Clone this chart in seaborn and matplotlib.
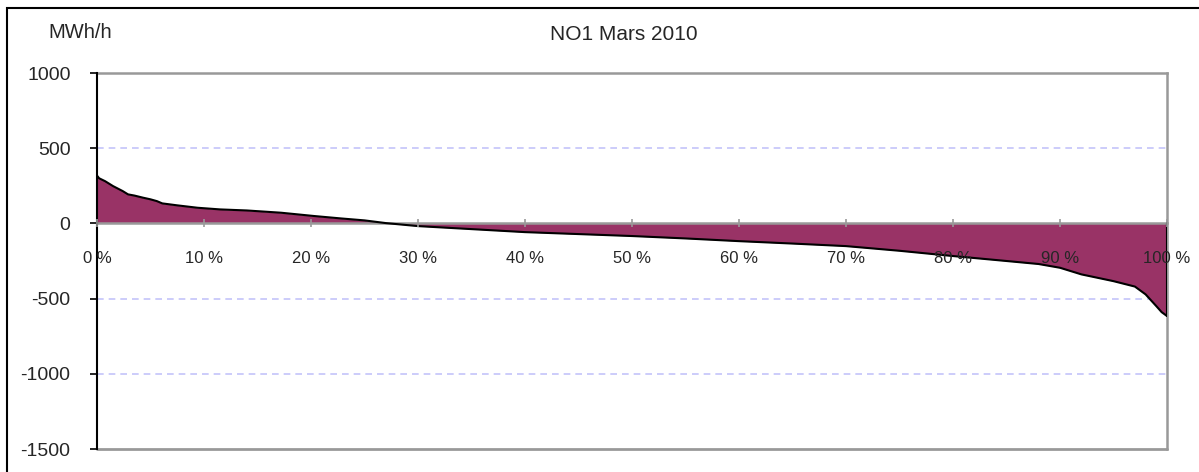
import matplotlib
matplotlib.use("Agg")
import matplotlib.pyplot as plt
import matplotlib.patches as patches
import seaborn as sns
import pandas as pd

# Duration curve NO1, March 2010 (share of hours, MWh/h)
percent = [0, 0.2, 0.75, 1.5, 2.4, 2.9, 3.5, 4.3, 5.0, 5.6, 6.1, 7.5, 9.4, 11.5,
           14, 17.2, 20.3, 22.8, 25, 27, 30, 35, 40, 45, 50, 55, 60, 65, 70,
           75, 80, 85, 88, 90, 92, 95, 97, 98, 99, 99.5, 100]
mwh = [318, 300, 281, 248, 215, 193, 185, 171, 160, 148, 133, 120, 104, 93,
       86, 71, 49, 33, 20, 2, -18, -38, -58, -71, -84, -100, -118, -134, -151,
       -182, -217, -250, -270, -295, -339, -384, -420, -472, -550, -590, -616]
x_ticks = [0, 10, 20, 30, 40, 50, 60, 70, 80, 90, 100]
x_labels = [f"{t} %" for t in x_ticks]
y_ticks = [-1500, -1000, -500, 0, 500, 1000]

df = pd.DataFrame({"percent": percent, "mwh": mwh})

sns.set_style("white")
plt.rcParams['font.family'] = ['Liberation Sans', 'DejaVu Sans']

fig = plt.figure(figsize=(11.99, 4.72), dpi=100)
ax = fig.add_axes([97 / 1199, 1 - 449 / 472, 1070 / 1199, 376 / 472])

ax.fill_between(df["percent"], df["mwh"], 0, color="#993366", linewidth=0, zorder=2)
sns.lineplot(data=df, x="percent", y="mwh", color="black", linewidth=1.5, ax=ax, zorder=4)
ax.plot([100, 100], [0, mwh[-1]], color="black", linewidth=1.5, zorder=4)

ax.set_xlim(0, 100)
ax.set_ylim(-1500, 1000)

# grid lines
for g in [500, -500, -1000]:
    ax.axhline(g, color="#c4c4fa", linestyle=(0, (4, 3)), linewidth=1.2, zorder=1)
ax.axhline(-1500, color="#999999", linewidth=2, zorder=3, clip_on=False)

ax.spines['bottom'].set_position(('data', 0))
ax.spines['bottom'].set_color("#999999")
ax.spines['bottom'].set_linewidth(1.8)
ax.spines['bottom'].set_zorder(3)
for s in ['top', 'right']:
    ax.spines[s].set_color("#999999")
    ax.spines[s].set_linewidth(1.8)
ax.spines['left'].set_color("black")
ax.spines['left'].set_linewidth(1.5)
ax.spines['left'].set_zorder(5)

ax.set_xticks(x_ticks)
ax.set_xticklabels(x_labels, fontsize=12)
ax.tick_params(axis='x', direction='inout', length=6, width=1.2, color="#999999",
               pad=17, bottom=True)
ax.xaxis.set_zorder(6)
ax.set_yticks(y_ticks)
ax.set_yticklabels([str(t) for t in y_ticks], fontsize=14)
ax.tick_params(axis='y', direction='out', length=5, width=1.2, color="black",
               pad=14, left=True)
ax.set_xlabel("")
ax.set_ylabel("")

fig.text(80 / 1199, 1 - 33 / 472, "MWh/h", fontsize=14.5, ha="center", va="center")
fig.text(624 / 1199, 1 - 34 / 472, "NO1 Mars 2010", fontsize=15, ha="center", va="center")

fig.patches.append(patches.Rectangle((7 / 1199, -0.1), 1.1, 1.1 - 8 / 472,
                                     transform=fig.transFigure, fill=False,
                                     edgecolor="black", linewidth=1.5))

fig.savefig("out.png", dpi=100)
